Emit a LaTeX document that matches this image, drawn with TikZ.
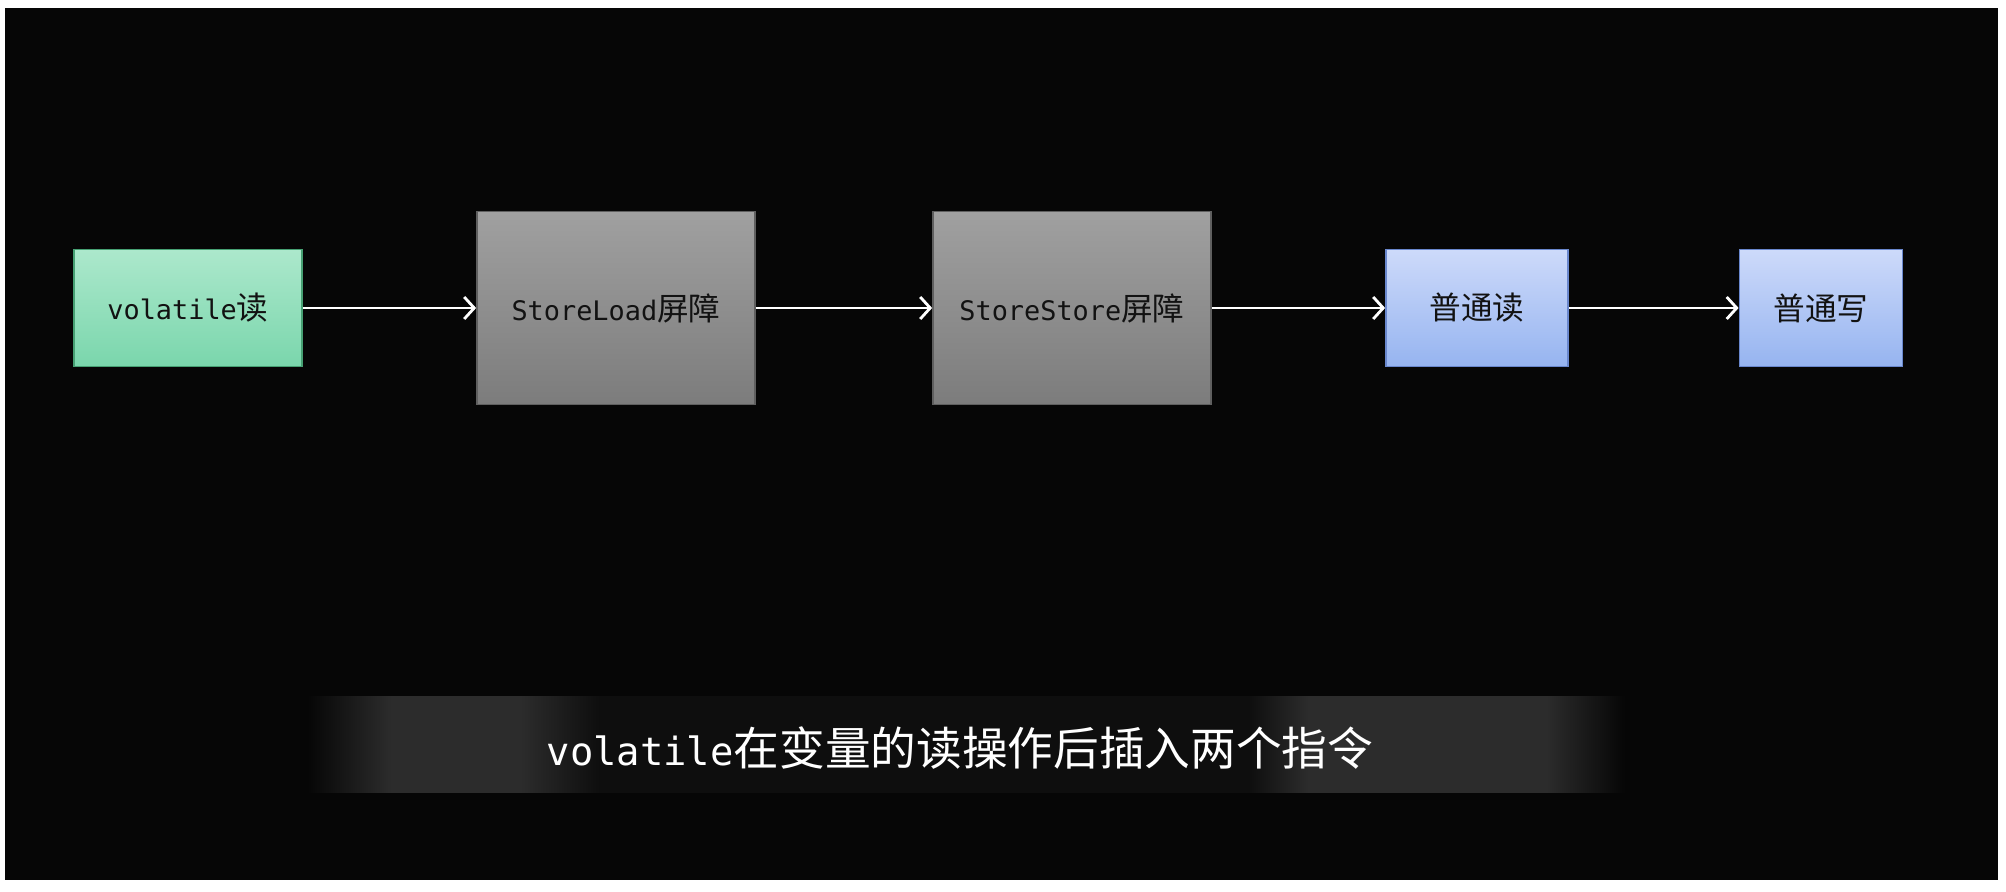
\documentclass[tikz,border=0pt]{standalone}
\usepackage{fontspec}
\usepackage{xcolor}
\usepackage{tikz}
\usetikzlibrary{arrows.meta, positioning, backgrounds}
\setmonofont[Scale=0.85]{DejaVu Sans Mono}
\newfontfamily\cjk{Noto Sans CJK SC}
\definecolor{bgdark}{RGB}{6, 6, 6}
\definecolor{bandlight}{RGB}{44, 44, 44}
\definecolor{banddark}{RGB}{14, 14, 14}
\definecolor{mintTop}{RGB}{172, 232, 204}
\definecolor{mintBottom}{RGB}{122, 214, 172}
\definecolor{mintEdge}{RGB}{70, 160, 115}
\definecolor{greyTop}{RGB}{160, 160, 160}
\definecolor{greyBottom}{RGB}{124, 124, 124}
\definecolor{greyEdge}{RGB}{95, 95, 95}
\definecolor{skyTop}{RGB}{205, 218, 250}
\definecolor{skyBottom}{RGB}{150, 180, 240}
\definecolor{skyEdge}{RGB}{105, 135, 205}
\definecolor{inktext}{RGB}{18, 18, 18}
\pgfdeclarehorizontalshading{captionglow}{100bp}{color(0bp)=(bgdark); color(25bp)=(bgdark); color(28.2bp)=(bandlight); color(33.1bp)=(bandlight); color(36.1bp)=(banddark); color(60.7bp)=(banddark); color(63bp)=(bandlight); color(72bp)=(bandlight); color(75bp)=(bgdark); color(100bp)=(bgdark)}

\begin{document}
\begin{tikzpicture}[
    x=0.1mm, y=-0.1mm,
    opbox/.style={draw, line width=0.5pt, align=center, inner sep=0pt, text=inktext, font=\fontsize{9}{11}\selectfont},
    readbox/.style={opbox, draw=mintEdge, top color=mintTop, bottom color=mintBottom, minimum height=11.7mm},
    fencebox/.style={opbox, draw=greyEdge, top color=greyTop, bottom color=greyBottom, minimum width=27.8mm, minimum height=19.3mm},
    plainbox/.style={opbox, draw=skyEdge, top color=skyTop, bottom color=skyBottom, minimum height=11.7mm},
    flow/.style={-{Straight Barb[length=1mm, width=2.2mm]}, draw=white, line width=0.8pt}
]
\useasboundingbox (0,0) rectangle (2006,892);

% Backdrop with white frame
\fill[white] (0,0) rectangle (2006,892);
\fill[bgdark] (5,8) rectangle (1998,880);

% Caption band
\shade[shading=captionglow] (307,697) rectangle (1625,793);

% Instruction sequence
\node[readbox, minimum width=22.8mm] (vread) at (188,308) {\texttt{volatile}{\cjk 读}};
\node[fencebox] (sload) at (616,308) {\texttt{StoreLoad}{\cjk 屏障}};
\node[fencebox] (sstore) at (1072,308) {\texttt{StoreStore}{\cjk 屏障}};
\node[plainbox, minimum width=18.2mm] (nread) at (1477,308) {\cjk 普通读};
\node[plainbox, minimum width=16.3mm] (nwrite) at (1821,308) {\cjk 普通写};

\draw[flow] (vread) -- (sload);
\draw[flow] (sload) -- (sstore);
\draw[flow] (sstore) -- (nread);
\draw[flow] (nread) -- (nwrite);

% Caption
\node[text=white, font=\fontsize{13}{15}\selectfont] (caption) at (960,748) {\texttt{volatile}{\cjk 在变量的读操作后插入两个指令}};

\end{tikzpicture}
\end{document}
